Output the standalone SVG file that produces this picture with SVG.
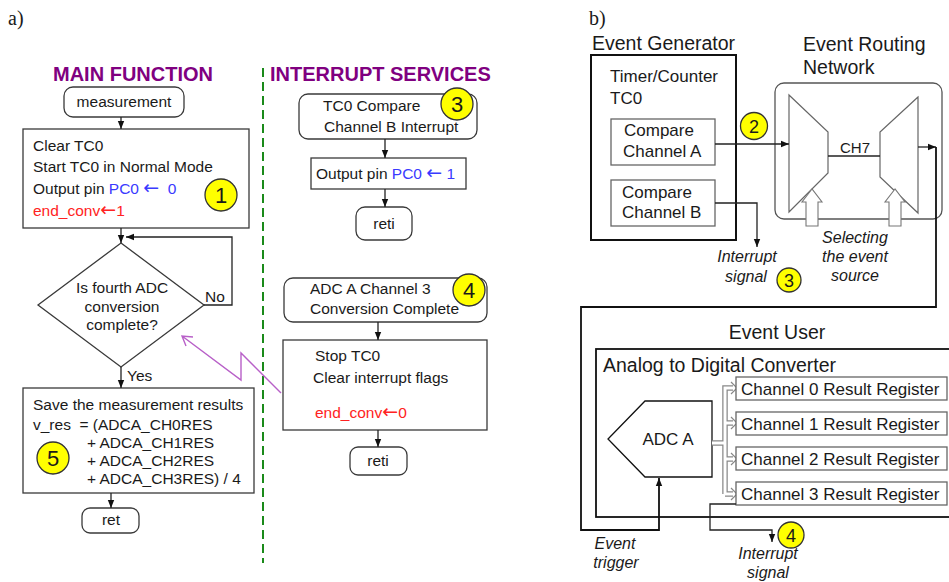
<svg xmlns="http://www.w3.org/2000/svg" width="949" height="582" viewBox="0 0 949 582">
<defs>
<style>
text{font-family:"Liberation Sans",Arial,sans-serif;fill:#1a1a1a}
.t{font-size:15.5px}
.m{text-anchor:middle}
.ttl{font-size:20px;font-weight:bold;fill:#800080}
.lbl{font-family:"Liberation Serif","Times New Roman",serif;font-size:20px}
.fc{fill:#fff;stroke:#3a3a3a;stroke-width:1.3}
.blue{fill:#3a3aff}
.red{fill:#ff2222}
.arr{font-family:"DejaVu Sans",sans-serif;font-size:19px}
.badge{fill:#ffff00;stroke:#333;stroke-width:1.3}
.num{font-size:22px;text-anchor:middle}
.num2{font-size:18px;text-anchor:middle}
.c{fill:none;stroke:#222;stroke-width:1.3}
.ck{fill:none;stroke:#111;stroke-width:1.8}
.r17{font-size:17px}
.r19{font-size:19.5px}
.it{font-style:italic;font-size:16px;text-anchor:middle}
.gbox{fill:#fff;stroke:#666;stroke-width:1.3}
.mux{fill:none;stroke:#666;stroke-width:1.2}
.hol{fill:#fff;stroke:#777;stroke-width:1.1}
.busO{fill:none;stroke:#888;stroke-width:5.5}
.busI{fill:none;stroke:#fff;stroke-width:3}
</style>
<marker id="ah" viewBox="0 0 10 10" refX="10" refY="5" markerWidth="8" markerHeight="8" markerUnits="userSpaceOnUse" orient="auto"><path d="M0,1 L10,5 L0,9 z" fill="#111"/></marker>
</defs>
<rect width="949" height="582" fill="#fff"/>

<text class="lbl" x="8" y="25">a)</text>
<text class="lbl" x="589" y="25">b)</text>
<text class="ttl m" x="133" y="81">MAIN FUNCTION</text>
<text class="ttl" x="270" y="81">INTERRUPT SERVICES</text>
<line x1="263" y1="68" x2="263" y2="563" stroke="#1a8a1a" stroke-width="2" stroke-dasharray="9 5"/>

<g id="n-measurement"><rect class="fc" x="64" y="87" width="120" height="30" rx="9"/><text class="t m" x="124" y="107">measurement</text></g>
<g id="n-init"><rect class="fc" x="23" y="129" width="226" height="99"/>
<text class="t" x="33" y="151">Clear TC0</text>
<text class="t" x="33" y="172">Start TC0 in Normal Mode</text>
<text class="t" x="33" y="194" xml:space="preserve">Output pin <tspan class="blue">PC0 <tspan class="arr">←</tspan>  0</tspan></text>
<text class="t red" x="33" y="216">end_conv<tspan class="arr">←</tspan>1</text>
<circle class="badge" cx="221" cy="195" r="16"/><text class="num" x="221" y="203">1</text></g>
<g id="n-decision"><polygon class="fc" points="121,243 204,305 121,367 38,305"/>
<text class="t m" x="122" y="293">Is fourth ADC</text>
<text class="t m" x="122" y="312">conversion</text>
<text class="t m" x="122" y="330">complete?</text>
<text class="t" x="205" y="302">No</text>
<text class="t" x="127" y="381">Yes</text></g>
<g id="n-save"><rect class="fc" x="23" y="388" width="231" height="105"/>
<text class="t" x="33" y="410">Save the measurement results</text>
<text class="t" x="33" y="430" xml:space="preserve">v_res  = (ADCA_CH0RES</text>
<text class="t" x="87" y="448">+ ADCA_CH1RES</text>
<text class="t" x="87" y="466">+ ADCA_CH2RES</text>
<text class="t" x="87" y="484">+ ADCA_CH3RES) / 4</text>
<circle class="badge" cx="53" cy="458" r="16"/><text class="num" x="53" y="466">5</text></g>
<g id="n-ret"><rect class="fc" x="82" y="508" width="57" height="25" rx="8"/><text class="t m" x="111" y="525">ret</text></g>

<g id="n-isr-tc0"><rect class="fc" x="299" y="94" width="178" height="45" rx="9"/>
<text class="t" x="323" y="111">TC0 Compare</text>
<text class="t" x="324" y="132">Channel B Interrupt</text>
<circle class="badge" cx="457" cy="104" r="16"/><text class="num" x="457" y="112">3</text></g>
<g id="n-out1"><rect class="fc" x="311" y="158" width="155" height="31"/><text class="t" x="316" y="179">Output pin <tspan class="blue">PC0 <tspan class="arr">←</tspan> 1</tspan></text></g>
<g id="n-reti1"><rect class="fc" x="356" y="207" width="56" height="33" rx="9"/><text class="t m" x="384" y="229">reti</text></g>
<g id="n-isr-adc"><rect class="fc" x="284" y="278" width="203" height="44" rx="9"/>
<text class="t" x="310" y="294">ADC A Channel 3</text>
<text class="t" x="310" y="314">Conversion Complete</text>
<circle class="badge" cx="469" cy="290" r="16"/><text class="num" x="469" y="298">4</text></g>
<g id="n-stop"><rect class="fc" x="283" y="340" width="204" height="90"/>
<text class="t" x="315" y="361">Stop TC0</text>
<text class="t" x="313" y="383">Clear interrupt flags</text>
<text class="t red" x="315" y="418">end_conv<tspan class="arr">←</tspan>0</text></g>
<g id="n-reti2"><rect class="fc" x="350" y="447" width="57" height="28" rx="8"/><text class="t m" x="378" y="466">reti</text></g>

<g id="n-evgen"><rect x="591" y="55" width="145" height="185" fill="#fff" stroke="#111" stroke-width="2"/>
<text class="r19" x="592" y="50">Event Generator</text>
<text class="r17" x="610" y="82">Timer/Counter</text>
<text class="r17" x="610" y="104">TC0</text></g>
<g id="n-cmpA"><rect class="gbox" x="611" y="119" width="104" height="46"/><text class="r17" x="624" y="136">Compare</text><text class="r17" x="623" y="157">Channel A</text></g>
<g id="n-cmpB"><rect class="gbox" x="611" y="180" width="104" height="46"/><text class="r17" x="622" y="198">Compare</text><text class="r17" x="622" y="218">Channel B</text></g>
<g id="n-routing"><rect x="775" y="83" width="167" height="136" rx="9" fill="#fff" stroke="#555" stroke-width="1.3"/>
<text class="r19" x="803" y="51">Event Routing</text>
<text class="r19" x="803" y="74">Network</text>
<polygon class="mux" points="789,95 828,132 828,173 789,212"/>
<polygon class="mux" points="918,97 880,132 880,177 918,213"/>
<line x1="828" y1="156" x2="880" y2="156" stroke="#222" stroke-width="1.3"/>
<text class="m" x="855" y="153" font-size="15px">CH7</text>
<path class="hol" d="M812,189 L802,202 L806,202 L806,226 L818,226 L818,202 L822,202 Z"/>
<path class="hol" d="M895,189 L885,202 L889,202 L889,226 L901,226 L901,202 L905,202 Z"/>
<text class="it" x="855" y="243">Selecting</text>
<text class="it" x="855" y="262">the event</text>
<text class="it" x="855" y="281">source</text></g>

<g id="n-adc"><rect x="596" y="349" width="380" height="168" fill="#fff" stroke="#111" stroke-width="1.8"/>
<text class="r19 m" x="777" y="339">Event User</text>
<text class="r19" x="603" y="372">Analog to Digital Converter</text>
<polygon points="645,401 712,401 712,477 645,477 608,439" fill="#fff" stroke="#111" stroke-width="1.3"/>
<text class="r17 m" x="668" y="445">ADC A</text></g>
<g id="n-bus">
<path class="busO" d="M712,443 H725 M725,494 V388 H733 M725,423 H733 M725,459 H733 M725,494 H733"/>
<path class="busI" d="M712,443 H725 M725,494 V388 H733 M725,423 H733 M725,459 H733 M725,494 H733"/>
<path d="M731,382 L737,388 L731,394 M731,417 L737,423 L731,429 M731,453 L737,459 L731,465 M731,488 L737,494 L731,500" fill="none" stroke="#888" stroke-width="1.2"/>
</g>
<g id="n-ch0"><rect class="gbox" x="736" y="377" width="211" height="23"/><text class="r17" x="741" y="395">Channel 0 Result Register</text></g>
<g id="n-ch1"><rect class="gbox" x="736" y="412" width="211" height="23"/><text class="r17" x="741" y="430">Channel 1 Result Register</text></g>
<g id="n-ch2"><rect class="gbox" x="736" y="447" width="211" height="23"/><text class="r17" x="741" y="465">Channel 2 Result Register</text></g>
<g id="n-ch3"><rect class="gbox" x="736" y="482" width="211" height="23"/><text class="r17" x="741" y="500">Channel 3 Result Register</text></g>

<g id="labels-right">
<circle class="badge" cx="754" cy="126" r="13.5"/><text class="num2" x="754" y="133">2</text>
<text class="it" x="747" y="262">Interrupt</text>
<text class="it" x="746" y="282">signal</text>
<circle class="badge" cx="789" cy="280" r="12"/><text class="num2" x="789" y="287">3</text>
<text class="it" x="615" y="549">Event</text>
<text class="it" x="616" y="568">trigger</text>
<text class="it" x="768" y="559">Interrupt</text>
<text class="it" x="768" y="578">signal</text>
<circle class="badge" cx="791" cy="535" r="13"/><text class="num2" x="791" y="542">4</text>
</g>

<g id="connectors">
<path class="c" d="M121,117 V129" marker-end="url(#ah)"/>
<path class="c" d="M121,228 V243" marker-end="url(#ah)"/>
<path class="c" d="M204,305 H232 V237 H126" marker-end="url(#ah)"/>
<path class="c" d="M121,367 V388" marker-end="url(#ah)"/>
<path class="c" d="M111,493 V508" marker-end="url(#ah)"/>
<path class="c" d="M385,139 V158" marker-end="url(#ah)"/>
<path class="c" d="M385,189 V207" marker-end="url(#ah)"/>
<path class="c" d="M378,322 V340" marker-end="url(#ah)"/>
<path class="c" d="M378,430 V447" marker-end="url(#ah)"/>
<path d="M281,393 L241,353 L241,380 L182,336 M193,337 L182,336 L186,346" fill="none" stroke="#b860c8" stroke-width="1.4"/>
<path class="c" d="M715,144 H789" marker-end="url(#ah)"/>
<path class="c" d="M715,203 H757 V247" marker-end="url(#ah)"/>
<path class="c" d="M918,147 H936" marker-end="url(#ah)"/>
<path class="ck" d="M936,147 V307 H581 V530 H659 V478" marker-end="url(#ah)"/>
<path class="c" d="M736,504 H710 V530 H772 V542" marker-end="url(#ah)"/>
</g>
</svg>
